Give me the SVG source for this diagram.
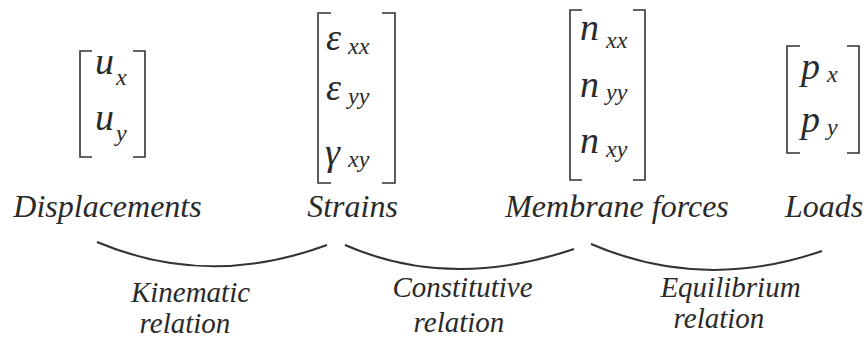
<svg xmlns="http://www.w3.org/2000/svg" width="868" height="341" viewBox="0 0 868 341">
<rect width="868" height="341" fill="#fff"/>
<g id="displacements">
<path fill="none" stroke="#333" stroke-width="1.6" d="M92,51 H80 V157 H92 M133,51 H145 V157 H133"/>
<text x="95" y="74" font-size="38" font-family="Liberation Serif, Times New Roman, serif" font-style="italic" fill="#2a2a2a">u</text>
<text x="116" y="85" font-size="24" font-family="Liberation Serif, Times New Roman, serif" font-style="italic" fill="#2a2a2a">x</text>
<text x="95" y="130" font-size="38" font-family="Liberation Serif, Times New Roman, serif" font-style="italic" fill="#2a2a2a">u</text>
<text x="116" y="141" font-size="24" font-family="Liberation Serif, Times New Roman, serif" font-style="italic" fill="#2a2a2a">y</text>
<text x="107.5" y="217" font-size="32" font-family="Liberation Serif, Times New Roman, serif" font-style="italic" fill="#2a2a2a" text-anchor="middle">Displacements</text>
</g>
<g id="strains">
<path fill="none" stroke="#333" stroke-width="1.6" d="M331,13 H318 V183 H331 M382,13 H395 V183 H382"/>
<text x="326" y="50" font-size="38" font-family="Liberation Serif, Times New Roman, serif" font-style="italic" fill="#2a2a2a">ε</text>
<text x="348" y="54" font-size="24" font-family="Liberation Serif, Times New Roman, serif" font-style="italic" fill="#2a2a2a">xx</text>
<text x="326" y="100" font-size="38" font-family="Liberation Serif, Times New Roman, serif" font-style="italic" fill="#2a2a2a">ε</text>
<text x="348" y="104" font-size="24" font-family="Liberation Serif, Times New Roman, serif" font-style="italic" fill="#2a2a2a">yy</text>
<text x="325" y="165" font-size="38" font-family="Liberation Serif, Times New Roman, serif" font-style="italic" fill="#2a2a2a">γ</text>
<text x="348" y="167" font-size="24" font-family="Liberation Serif, Times New Roman, serif" font-style="italic" fill="#2a2a2a">xy</text>
<text x="352.5" y="217" font-size="32" font-family="Liberation Serif, Times New Roman, serif" font-style="italic" fill="#2a2a2a" text-anchor="middle">Strains</text>
</g>
<g id="membrane-forces">
<path fill="none" stroke="#333" stroke-width="1.6" d="M582,10 H570 V180 H582 M633,10 H645 V180 H633"/>
<text x="580" y="40" font-size="38" font-family="Liberation Serif, Times New Roman, serif" font-style="italic" fill="#2a2a2a">n</text>
<text x="606" y="48" font-size="24" font-family="Liberation Serif, Times New Roman, serif" font-style="italic" fill="#2a2a2a">xx</text>
<text x="580" y="97" font-size="38" font-family="Liberation Serif, Times New Roman, serif" font-style="italic" fill="#2a2a2a">n</text>
<text x="606" y="100" font-size="24" font-family="Liberation Serif, Times New Roman, serif" font-style="italic" fill="#2a2a2a">yy</text>
<text x="580" y="153" font-size="38" font-family="Liberation Serif, Times New Roman, serif" font-style="italic" fill="#2a2a2a">n</text>
<text x="606" y="157" font-size="24" font-family="Liberation Serif, Times New Roman, serif" font-style="italic" fill="#2a2a2a">xy</text>
<text x="617" y="217" font-size="32" font-family="Liberation Serif, Times New Roman, serif" font-style="italic" fill="#2a2a2a" text-anchor="middle">Membrane forces</text>
</g>
<g id="loads">
<path fill="none" stroke="#333" stroke-width="1.6" d="M800,46 H787 V153 H800 M847,46 H859 V153 H847"/>
<text x="801" y="79" font-size="38" font-family="Liberation Serif, Times New Roman, serif" font-style="italic" fill="#2a2a2a">p</text>
<text x="827" y="82" font-size="24" font-family="Liberation Serif, Times New Roman, serif" font-style="italic" fill="#2a2a2a">x</text>
<text x="801" y="132" font-size="38" font-family="Liberation Serif, Times New Roman, serif" font-style="italic" fill="#2a2a2a">p</text>
<text x="827" y="135" font-size="24" font-family="Liberation Serif, Times New Roman, serif" font-style="italic" fill="#2a2a2a">y</text>
<text x="824" y="217" font-size="32" font-family="Liberation Serif, Times New Roman, serif" font-style="italic" fill="#2a2a2a" text-anchor="middle">Loads</text>
</g>
<g id="connectors" fill="none" stroke="#333" stroke-width="2">
<path d="M97,242 Q208,289 327,245"/>
<path d="M345,245 Q450,291 574,249"/>
<path d="M591,244 Q703,292 822,251"/>
</g>
<g id="kinematic">
<text x="190.5" y="302" font-size="29" font-family="Liberation Serif, Times New Roman, serif" font-style="italic" fill="#2a2a2a" text-anchor="middle">Kinematic</text>
<text x="185" y="333" font-size="29" font-family="Liberation Serif, Times New Roman, serif" font-style="italic" fill="#2a2a2a" text-anchor="middle">relation</text>
</g>
<g id="constitutive">
<text x="462.5" y="297" font-size="29" font-family="Liberation Serif, Times New Roman, serif" font-style="italic" fill="#2a2a2a" text-anchor="middle">Constitutive</text>
<text x="459" y="332" font-size="29" font-family="Liberation Serif, Times New Roman, serif" font-style="italic" fill="#2a2a2a" text-anchor="middle">relation</text>
</g>
<g id="equilibrium">
<text x="730.5" y="297" font-size="29" font-family="Liberation Serif, Times New Roman, serif" font-style="italic" fill="#2a2a2a" text-anchor="middle">Equilibrium</text>
<text x="719" y="328" font-size="29" font-family="Liberation Serif, Times New Roman, serif" font-style="italic" fill="#2a2a2a" text-anchor="middle">relation</text>
</g>
</svg>
